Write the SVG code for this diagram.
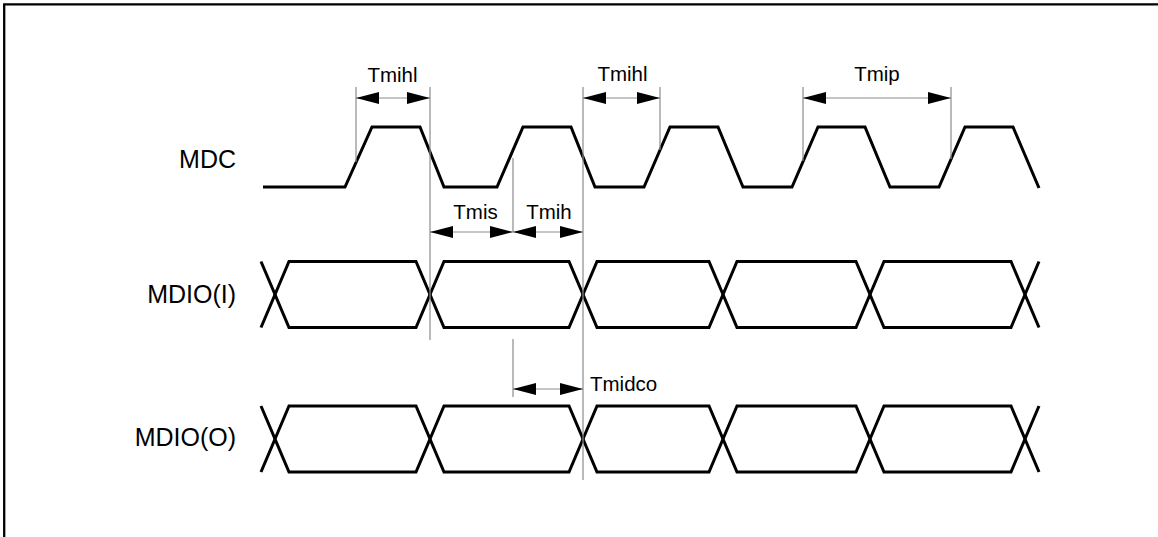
<svg xmlns="http://www.w3.org/2000/svg" width="1158" height="537" viewBox="0 0 1158 537">
<style>
.frame{fill:none;stroke:#000;stroke-width:2.3}
.wave{fill:none;stroke:#000;stroke-width:3;stroke-linejoin:miter}
.guide{stroke:#8c8c8c;stroke-width:1.2;fill:none}
.shaft{stroke:#8c8c8c;stroke-width:1.2;fill:none;marker-start:url(#ah);marker-end:url(#ah)}
.sig{font-family:"Liberation Sans",Arial,sans-serif;font-size:25px;fill:#000;text-anchor:end}
.tim{font-family:"Liberation Sans",Arial,sans-serif;font-size:20.5px;fill:#000;text-anchor:middle}
</style>
<defs>
<marker id="ah" markerUnits="userSpaceOnUse" markerWidth="24" markerHeight="13" refX="23" refY="6.5" orient="auto-start-reverse" viewBox="0 0 24 13">
<path d="M0,0.5 L23,6.5 L0,12.5 Z" fill="#000"/>
</marker>
</defs>
<rect width="1158" height="537" fill="#fff"/>
<path class="frame" d="M4.2,537 V4.3 H1158"/>

<g id="label-mdc"><text class="sig" x="236" y="168">MDC</text></g>
<g id="label-mdio-i"><text class="sig" x="236" y="303">MDIO(I)</text></g>
<g id="label-mdio-o"><text class="sig" x="236" y="446">MDIO(O)</text></g>

<g id="mdc-wave">
<path class="wave" d="M263,187 H345 L372,127 H420 L444,187 H497 L523,127 H571 L595,187 H644 L670,127 H718 L743,187 H792 L818,127 H865 L890,187 H939 L965,127 H1013 L1039,188"/>
</g>

<g id="mdio-i-wave">
<path class="wave" d="M261,261.5 L275,294.5 L261,327.5"/>
<path class="wave" d="M275,294.5 L289,261.5 H416 L430,294.5 L416,327.5 H289 Z"/>
<path class="wave" d="M430,294.5 L444,261.5 H569 L583,294.5 L569,327.5 H444 Z"/>
<path class="wave" d="M583,294.5 L597,261.5 H709 L723,294.5 L709,327.5 H597 Z"/>
<path class="wave" d="M723,294.5 L737,261.5 H856 L870,294.5 L856,327.5 H737 Z"/>
<path class="wave" d="M870,294.5 L884,261.5 H1011 L1025,294.5 L1011,327.5 H884 Z"/>
<path class="wave" d="M1039,261.5 L1025,294.5 L1039,327.5"/>
</g>

<g id="mdio-o-wave">
<path class="wave" d="M261,406 L275,439 L261,472"/>
<path class="wave" d="M275,439 L289,406 H416 L430,439 L416,472 H289 Z"/>
<path class="wave" d="M430,439 L444,406 H569 L583,439 L569,472 H444 Z"/>
<path class="wave" d="M583,439 L597,406 H709 L723,439 L709,472 H597 Z"/>
<path class="wave" d="M723,439 L737,406 H856 L870,439 L856,472 H737 Z"/>
<path class="wave" d="M870,439 L884,406 H1011 L1025,439 L1011,472 H884 Z"/>
<path class="wave" d="M1039,406 L1025,439 L1039,472"/>
</g>

<g id="connectors">
<line class="guide" x1="356" y1="87" x2="356" y2="162"/>
<line class="guide" x1="430" y1="87" x2="430" y2="340"/>
<line class="guide" x1="513" y1="158" x2="513" y2="232"/>
<line class="guide" x1="583" y1="87" x2="583" y2="480"/>
<line class="guide" x1="660" y1="87" x2="660" y2="150"/>
<line class="guide" x1="803" y1="87" x2="803" y2="161"/>
<line class="guide" x1="951" y1="87" x2="951" y2="159"/>
<line class="guide" x1="513" y1="339" x2="513" y2="397"/>
<line class="shaft" x1="356" y1="98" x2="430" y2="98"/>
<line class="shaft" x1="583" y1="98" x2="660" y2="98"/>
<line class="shaft" x1="803" y1="98" x2="951" y2="98"/>
<line class="shaft" x1="430" y1="232" x2="513" y2="232"/>
<line class="shaft" x1="513" y1="232" x2="583" y2="232"/>
<line class="shaft" x1="513" y1="389" x2="583" y2="389"/>
</g>

<g id="timing-labels">
<text class="tim" x="392.5" y="82">Tmihl</text>
<text class="tim" x="622.5" y="81">Tmihl</text>
<text class="tim" x="877" y="81">Tmip</text>
<text class="tim" x="475.5" y="219">Tmis</text>
<text class="tim" x="549" y="219">Tmih</text>
<text class="tim" x="590" y="391" style="text-anchor:start">Tmidco</text>
</g>
</svg>
